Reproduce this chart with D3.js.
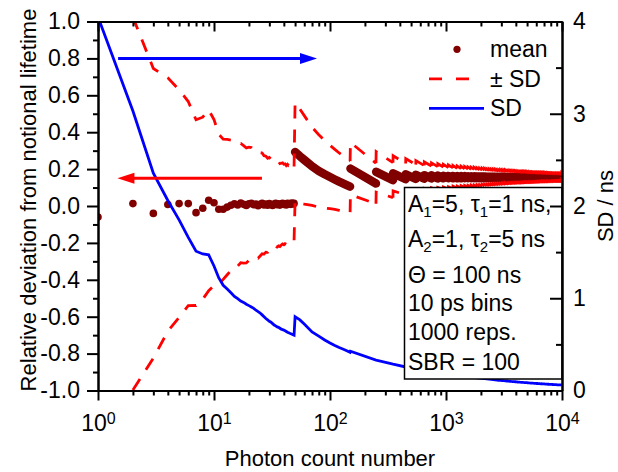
<!DOCTYPE html>
<html lang="en">
<head>
    <meta charset="UTF-8">
    <title>Relative deviation vs photon count</title>
    <script src="https://cdnjs.cloudflare.com/ajax/libs/d3/7.8.5/d3.min.js"></script>
    <style>
        body {
            margin: 0;
            background-color: #fff;
        }
        svg {
            display: block;
            font-family: "Liberation Sans", Arial, sans-serif;
        }
        .axis path, .axis line {
            stroke: #000;
            stroke-width: 2px;
        }
        .axis text {
            font-size: 23px;
            fill: #000;
        }
        .title {
            font-size: 22px;
            fill: #000;
        }
        .legend text, .note text {
            font-size: 23px;
            fill: #000;
        }
    </style>
</head>
<body>
    <svg id="chart" width="618" height="472"></svg>

    <script>
        // ---- Data ----
        // photon counts 1..49, one point per count
        const lowN = [1, 2, 3, 4, 5, 6, 7, 8, 9, 10, 11, 12, 13, 14, 15, 16, 17, 18, 19, 20,
            21, 22, 23, 24, 25, 26, 27, 28, 29, 30, 31, 32, 33, 34, 35, 36, 37, 38, 39, 40,
            41, 42, 43, 44, 45, 46, 47, 48, 49];
        // mean relative deviation
        const lowMean = [-0.060, 0.013, -0.040, 0.008, 0.013, 0.013, -0.036, -0.012, 0.031, 0.018,
            -0.018, -0.018, -0.006, 0.004, 0.012, 0.006, 0.016, 0.009, 0.003, 0.012,
            0.015, 0.007, 0.011, 0.002, 0.009, 0.014, 0.006, 0.010, 0.004, 0.013,
            0.008, 0.003, 0.011, 0.015, 0.007, 0.012, 0.005, 0.010, 0.014, 0.008,
            0.012, 0.006, 0.015, 0.010, 0.013, 0.009, 0.016, 0.011, 0.014];
        // SD in ns
        const lowSd = [4.05, 3.03, 2.355, 2.06, 1.85, 1.66, 1.51, 1.48, 1.47, 1.35,
            1.22, 1.14, 1.10, 1.06, 1.02, 0.995, 0.97, 0.955, 0.935, 0.92,
            0.905, 0.89, 0.87, 0.855, 0.84, 0.82, 0.80, 0.78, 0.765, 0.75,
            0.74, 0.725, 0.71, 0.70, 0.69, 0.685, 0.675, 0.665, 0.66, 0.655,
            0.648, 0.64, 0.632, 0.626, 0.62, 0.615, 0.61, 0.605, 0.60];

        // first sawtooth, 50..149 photons
        const firstToothN = [50, 55, 60, 70, 80, 90, 100, 110, 120, 135, 149];
        const firstToothMean = [0.293, 0.270, 0.250, 0.215, 0.190, 0.172, 0.157, 0.144, 0.132, 0.117, 0.105];
        const firstToothSd = [0.80, 0.765, 0.72, 0.635, 0.59, 0.548, 0.515, 0.488, 0.466, 0.44, 0.415];

        // later sawteeth, each starts at these counts and runs 100 photons
        const toothN = [150, 250, 350, 450, 550, 650, 750, 850, 950,
            1050, 1150, 1250, 1350, 1450, 1550, 1650, 1750, 1850, 1950,
            2050, 2150, 2250, 2350, 2450, 2550, 2650, 2750, 2850, 2950,
            3050, 3150, 3250, 3350, 3450, 3550, 3650, 3750, 3850, 3950,
            4050, 4150, 4250, 4350, 4450, 4550, 4650, 4750, 4850, 4950,
            5050, 5150, 5250, 5350, 5450, 5550, 5650, 5750, 5850, 5950,
            6050, 6150, 6250, 6350, 6450, 6550, 6650, 6750, 6850, 6950,
            7050, 7150, 7250, 7350, 7450, 7550, 7650, 7750, 7850, 7950,
            8050, 8150, 8250, 8350, 8450, 8550, 8650, 8750, 8850, 8950,
            9050, 9150, 9250, 9350, 9450, 9550, 9650, 9750, 9850, 9950];
        const toothMeanStart = [0.203, 0.185, 0.177, 0.172, 0.169, 0.167, 0.166, 0.165, 0.164,
            0.163, 0.163, 0.162, 0.162, 0.162, 0.161, 0.161, 0.161, 0.160, 0.160,
            0.160, 0.160, 0.159, 0.159, 0.159, 0.159, 0.159, 0.158, 0.158, 0.158,
            0.158, 0.158, 0.158, 0.157, 0.157, 0.157, 0.157, 0.157, 0.157, 0.157,
            0.156, 0.157, 0.156, 0.156, 0.156, 0.156, 0.156, 0.156, 0.156, 0.156,
            0.156, 0.155, 0.156, 0.155, 0.155, 0.155, 0.155, 0.155, 0.155, 0.155,
            0.155, 0.155, 0.155, 0.155, 0.155, 0.155, 0.155, 0.155, 0.155, 0.155,
            0.155, 0.154, 0.155, 0.154, 0.154, 0.155, 0.154, 0.154, 0.154, 0.154,
            0.154, 0.154, 0.154, 0.154, 0.154, 0.154, 0.154, 0.154, 0.154, 0.154,
            0.154, 0.154, 0.154, 0.154, 0.154, 0.154, 0.154, 0.154, 0.154, 0.154];
        const toothMeanEnd = [0.122, 0.140, 0.145, 0.147, 0.148, 0.149, 0.149, 0.150, 0.150,
            0.150, 0.150, 0.150, 0.151, 0.151, 0.151, 0.151, 0.151, 0.151, 0.151,
            0.151, 0.151, 0.151, 0.151, 0.151, 0.151, 0.151, 0.151, 0.151, 0.151,
            0.151, 0.151, 0.151, 0.152, 0.152, 0.151, 0.152, 0.152, 0.152, 0.152,
            0.152, 0.152, 0.152, 0.152, 0.152, 0.152, 0.152, 0.152, 0.152, 0.152,
            0.152, 0.152, 0.152, 0.152, 0.152, 0.152, 0.152, 0.152, 0.152, 0.152,
            0.152, 0.152, 0.152, 0.152, 0.152, 0.152, 0.152, 0.152, 0.152, 0.152,
            0.152, 0.152, 0.152, 0.152, 0.152, 0.152, 0.152, 0.152, 0.152, 0.152,
            0.152, 0.152, 0.152, 0.152, 0.152, 0.152, 0.152, 0.152, 0.152, 0.152,
            0.152, 0.152, 0.152, 0.152, 0.152, 0.152, 0.152, 0.152, 0.152, 0.152];
        const toothSd = [0.425, 0.33, 0.285, 0.255, 0.232, 0.215, 0.203, 0.193, 0.184,
            0.176, 0.169, 0.163, 0.158, 0.153, 0.149, 0.145, 0.142, 0.138, 0.135,
            0.131, 0.128, 0.125, 0.123, 0.120, 0.118, 0.116, 0.113, 0.111, 0.110,
            0.108, 0.106, 0.104, 0.103, 0.101, 0.100, 0.098, 0.097, 0.096, 0.095,
            0.093, 0.092, 0.091, 0.090, 0.089, 0.088, 0.087, 0.086, 0.085, 0.085,
            0.084, 0.083, 0.082, 0.081, 0.081, 0.080, 0.079, 0.078, 0.078, 0.077,
            0.076, 0.076, 0.075, 0.075, 0.074, 0.073, 0.073, 0.072, 0.072, 0.071,
            0.071, 0.070, 0.070, 0.069, 0.069, 0.068, 0.068, 0.067, 0.067, 0.066,
            0.066, 0.066, 0.065, 0.065, 0.064, 0.064, 0.064, 0.063, 0.063, 0.063,
            0.062, 0.062, 0.062, 0.061, 0.061, 0.061, 0.060, 0.060, 0.060, 0.060];
        const lastN = 10000;
        const lastSd = 0.060;

        // notional lifetime (ns), turns SD into relative units for the +/- SD lines
        const notionalTau = 3;

        // ticks
        const xTicks = [1, 10, 100, 1000, 10000];
        const yLeftTicks = [-1.0, -0.8, -0.6, -0.4, -0.2, 0.0, 0.2, 0.4, 0.6, 0.8, 1.0];
        const yLeftMinor = [-0.9, -0.7, -0.5, -0.3, -0.1, 0.1, 0.3, 0.5, 0.7, 0.9];
        const yRightTicks = [0, 1, 2, 3, 4];
        const yRightMinor = [0.5, 1.5, 2.5, 3.5];

        const legendLabels = ["mean", "\u00b1 SD", "SD"];
        const noteLines = ["A_1=5, \u03c4_1=1 ns,", "A_2=1, \u03c4_2=5 ns", "\u0398 = 100 ns",
            "10 ps bins", "1000 reps.", "SBR = 100"];

        // arrows, in data units: [from count, to count, value]
        const sdArrow = [1.49, 77.3, 3.6];      // right axis
        const meanArrow = [25.9, 1.47, 0.15];   // left axis

        // ---- Layout ----
        const width = 618;
        const height = 472;
        const plot = { left: 98, right: 562, top: 21.5, bottom: 390.5 };
        const DARK = "#800000", RED = "#ff0000", BLUE = "#0000ff";

        const svg = d3.select("#chart");

        const x = d3.scaleLog().domain([1, 1e4]).range([plot.left, plot.right]);
        const yL = d3.scaleLinear().domain([-1, 1]).range([plot.bottom, plot.top]);
        const yR = d3.scaleLinear().domain([0, 4]).range([plot.bottom, plot.top]);

        // ---- Build series ----
        const lowPts = lowN.map((n, i) => ({ n: n, mean: lowMean[i], sd: lowSd[i] }));
        const firstPts = firstToothN.map((n, i) => ({ n: n, mean: firstToothMean[i], sd: firstToothSd[i] }));
        const teeth = [firstPts];
        toothN.forEach((n, i) => {
            const last = i === toothN.length - 1;
            teeth.push([
                { n: n, mean: toothMeanStart[i], sd: toothSd[i] },
                { n: last ? lastN : toothN[i + 1] - 1, mean: toothMeanEnd[i], sd: last ? lastSd : toothSd[i + 1] }
            ]);
        });
        const sdPts = lowPts.concat(...teeth);

        // +/- SD paths: one for the single counts, then one per tooth (incl. the jump into it)
        const bandPaths = [lowPts.slice(1)];
        teeth.forEach((t, k) => {
            const prev = k === 0 ? lowPts[lowPts.length - 1] : teeth[k - 1][teeth[k - 1].length - 1];
            bandPaths.push([prev].concat(t));
        });

        // ---- Clip ----
        svg.append("defs").append("clipPath").attr("id", "plot-clip")
            .append("rect")
            .attr("x", plot.left).attr("y", plot.top)
            .attr("width", plot.right - plot.left).attr("height", plot.bottom - plot.top);

        const g = svg.append("g").attr("clip-path", "url(#plot-clip)");

        // Mean: dots, then sawteeth as thick round lines (overlapping dots)
        const meanLine = d3.line().x(d => x(d.n)).y(d => yL(d.mean));
        g.append("g").selectAll("path")
            .data(teeth)
            .enter().append("path")
            .attr("d", meanLine)
            .attr("fill", "none")
            .attr("stroke", DARK)
            .attr("stroke-width", 8.5)
            .attr("stroke-linecap", "round")
            .attr("stroke-linejoin", "round");
        g.append("g").selectAll("circle")
            .data(lowPts)
            .enter().append("circle")
            .attr("cx", d => x(d.n))
            .attr("cy", d => yL(d.mean))
            .attr("r", 3.8)
            .attr("fill", DARK);

        // +/- SD dashed lines
        [1, -1].forEach(sign => {
            const line = d3.line().x(d => x(d.n)).y(d => yL(d.mean + sign * d.sd / notionalTau));
            g.append("g").selectAll("path")
                .data(bandPaths)
                .enter().append("path")
                .attr("d", line)
                .attr("fill", "none")
                .attr("stroke", RED)
                .attr("stroke-width", 2.8)
                .attr("stroke-dasharray", "13,11");
        });

        // SD (ns, right axis)
        g.append("path")
            .datum(sdPts)
            .attr("d", d3.line().x(d => x(d.n)).y(d => yR(d.sd)))
            .attr("fill", "none")
            .attr("stroke", BLUE)
            .attr("stroke-width", 2.8);

        // Arrows
        function arrow(x1, x2, y, color) {
            const dir = Math.sign(x2 - x1);
            const headLen = 17, headHalf = 5.5;
            svg.append("line")
                .attr("x1", x1).attr("y1", y)
                .attr("x2", x2 - dir * headLen + dir * 1).attr("y2", y)
                .attr("stroke", color).attr("stroke-width", 3);
            svg.append("path")
                .attr("d", `M${x2},${y}L${x2 - dir * headLen},${y - headHalf}L${x2 - dir * headLen},${y + headHalf}Z`)
                .attr("fill", color);
        }
        arrow(x(sdArrow[0]), x(sdArrow[1]), yR(sdArrow[2]), BLUE);
        arrow(x(meanArrow[0]), x(meanArrow[1]), yL(meanArrow[2]), RED);

        // ---- Parameter box ----
        const note = svg.append("g").attr("class", "note");
        note.append("rect")
            .attr("x", 404.5).attr("y", 187.5)
            .attr("width", plot.right - 404.5).attr("height", 379 - 187.5)
            .attr("fill", "#fff").attr("stroke", "#000").attr("stroke-width", 1.5);
        const noteBaselines = [212, 247, 282.5, 310.5, 340, 369.5];
        noteLines.forEach((s, i) => {
            const t = note.append("text").attr("x", 408).attr("y", noteBaselines[i]);
            const parts = s.split(/_(.)/);
            parts.forEach((p, j) => {
                if (!p) return;
                if (j % 2 === 1) {
                    t.append("tspan").attr("font-size", "15px").attr("dy", 5).text(p);
                } else {
                    t.append("tspan").attr("dy", j > 0 ? -5 : 0).text(p);
                }
            });
        });

        // ---- Axes ----
        const minorX = [];
        [1, 10, 100, 1000].forEach(d => { for (let m = 2; m <= 9; m++) minorX.push(m * d); });

        function styleAxis(sel) {
            sel.attr("font-size", null).attr("font-family", null);
            return sel;
        }

        // bottom
        styleAxis(svg.append("g").attr("class", "axis")
            .attr("transform", `translate(0,${plot.bottom})`)
            .call(d3.axisBottom(x).tickValues(xTicks).tickSize(10).tickPadding(14).tickSizeOuter(0)))
            .selectAll(".tick text")
            .each(function(d) {
                const t = d3.select(this).text(null);
                t.append("tspan").text("10");
                t.append("tspan").attr("dy", "-0.45em").style("font-size", "16px").text(Math.round(Math.log10(d)));
            });
        styleAxis(svg.append("g").attr("class", "axis")
            .attr("transform", `translate(0,${plot.bottom})`)
            .call(d3.axisBottom(x).tickValues(minorX).tickSize(5).tickFormat("").tickSizeOuter(0)));

        // top (ticks inward, no labels)
        styleAxis(svg.append("g").attr("class", "axis")
            .attr("transform", `translate(0,${plot.top})`)
            .call(d3.axisBottom(x).tickValues(xTicks).tickSize(10).tickFormat("").tickSizeOuter(0)));
        styleAxis(svg.append("g").attr("class", "axis")
            .attr("transform", `translate(0,${plot.top})`)
            .call(d3.axisBottom(x).tickValues(minorX).tickSize(5).tickFormat("").tickSizeOuter(0)));

        // left
        styleAxis(svg.append("g").attr("class", "axis")
            .attr("transform", `translate(${plot.left},0)`)
            .call(d3.axisLeft(yL).tickValues(yLeftTicks).tickSize(11).tickPadding(7)
                .tickFormat(v => v.toFixed(1)).tickSizeOuter(0)));
        styleAxis(svg.append("g").attr("class", "axis")
            .attr("transform", `translate(${plot.left},0)`)
            .call(d3.axisLeft(yL).tickValues(yLeftMinor).tickSize(5).tickFormat("").tickSizeOuter(0)));

        // right (ticks inward, labels outside)
        styleAxis(svg.append("g").attr("class", "axis")
            .attr("transform", `translate(${plot.right},0)`)
            .call(d3.axisRight(yR).tickValues(yRightTicks).tickSizeInner(-12).tickPadding(11)
                .tickSizeOuter(0).tickFormat(d3.format("d"))));
        styleAxis(svg.append("g").attr("class", "axis")
            .attr("transform", `translate(${plot.right},0)`)
            .call(d3.axisRight(yR).tickValues(yRightMinor).tickSizeInner(-6).tickFormat("").tickSizeOuter(0)));

        // Axis titles
        svg.append("text").attr("class", "title")
            .attr("transform", `translate(36,200) rotate(-90)`)
            .attr("text-anchor", "middle")
            .text("Relative deviation from notional lifetime");
        svg.append("text").attr("class", "title")
            .attr("transform", `translate(613,206) rotate(-90)`)
            .attr("text-anchor", "middle")
            .text("SD / ns");
        svg.append("text").attr("class", "title")
            .attr("x", (plot.left + plot.right) / 2).attr("y", 466)
            .attr("text-anchor", "middle")
            .text("Photon count number");

        // ---- Legend ----
        const legend = svg.append("g").attr("class", "legend");
        const rowY = [49.3, 78.8, 108.3];
        legend.append("circle").attr("cx", 457).attr("cy", rowY[0]).attr("r", 3.6).attr("fill", DARK);
        legend.append("line")
            .attr("x1", 429).attr("x2", 469).attr("y1", rowY[1]).attr("y2", rowY[1])
            .attr("stroke", RED).attr("stroke-width", 2.8).attr("stroke-dasharray", "13,14");
        legend.append("line")
            .attr("x1", 429).attr("x2", 484).attr("y1", rowY[2]).attr("y2", rowY[2])
            .attr("stroke", BLUE).attr("stroke-width", 2.8);
        legend.selectAll("text.lab")
            .data(legendLabels)
            .enter().append("text")
            .attr("class", "lab")
            .attr("x", 490)
            .attr("y", (d, i) => rowY[i] + 8)
            .text(d => d);
    </script>
</body>
</html>
